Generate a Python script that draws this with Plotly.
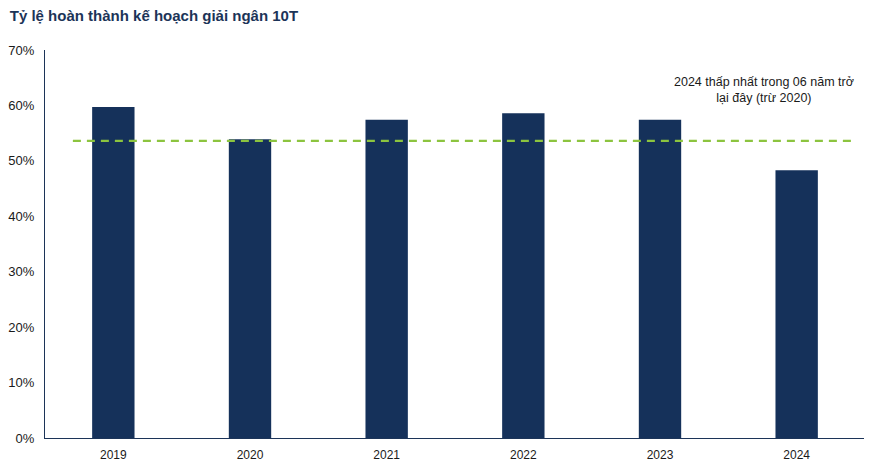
import plotly.graph_objects as go

years = ["2019", "2020", "2021", "2022", "2023", "2024"]
completion_pct = [59.7, 53.9, 57.4, 58.6, 57.4, 48.3]
reference_level = 53.6
y_ticks = [0, 10, 20, 30, 40, 50, 60, 70]
y_tick_labels = ["0%", "10%", "20%", "30%", "40%", "50%", "60%", "70%"]

fig = go.Figure()
fig.add_trace(go.Bar(
    x=years, y=completion_pct,
    marker=dict(color="#15315a", line=dict(width=0)),
    width=0.31,
    hoverinfo="skip",
))

fig.add_shape(type="line", xref="paper", yref="y",
              x0=0.034, x1=0.99, y0=reference_level, y1=reference_level,
              line=dict(color="#8cc43f", width=2.2, dash="8px,6px"))

fig.add_annotation(
    xref="paper", yref="y", x=0.877, y=62.7,
    text="2024 thấp nhất trong 06 năm trở<br>lại đây (trừ 2020)",
    showarrow=False, align="center", xanchor="center", yanchor="middle",
    font=dict(family="Liberation Sans, Arial", size=12.5, color="#1a1a1a"),
)

fig.update_layout(
    width=864, height=461,
    margin=dict(l=37, r=7, t=42, b=31),
    paper_bgcolor="white", plot_bgcolor="white",
    showlegend=False,
    bargap=0.69,
    title=dict(text="<b>Tỷ lệ hoàn thành kế hoạch giải ngân 10T</b>",
               x=0.002, xanchor="left", y=0.994, yanchor="top",
               pad=dict(t=0, l=0),
               font=dict(family="Liberation Sans, Arial", size=15, color="#1c3458")),
    font=dict(family="Liberation Sans, Arial", size=12, color="#1a1a1a"),
)
fig.update_xaxes(showgrid=False, showline=True, linecolor="#1c3458", linewidth=1,
                 ticks="", tickfont=dict(size=12, color="#1a1a1a"),
                 automargin=False, ticklabelstandoff=6)
fig.update_yaxes(range=[0, 70], tickvals=y_ticks, ticktext=y_tick_labels,
                 showgrid=False, zeroline=False, showline=True, linecolor="#1c3458",
                 linewidth=1, ticks="", tickfont=dict(size=13, color="#1a1a1a"),
                 automargin=False, ticklabelstandoff=7)

fig.write_html("out.html")
